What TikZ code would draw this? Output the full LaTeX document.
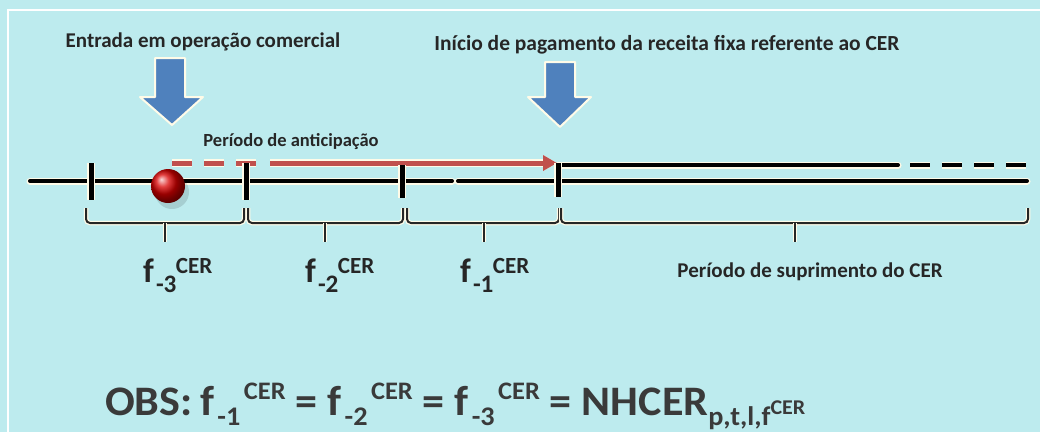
\documentclass[tikz,border=0pt]{standalone}
\usepackage{fontspec}
\setmainfont{Carlito}
\usetikzlibrary{arrows.meta}
\definecolor{bg}{HTML}{BDEBEE}
\definecolor{blueA}{HTML}{4F81BD}
\definecolor{redA}{HTML}{C0504D}
\definecolor{txt}{HTML}{262626}
\definecolor{obs}{HTML}{3A3A3A}
\definecolor{glow}{HTML}{FFFBE8}
% f label: sub lowered, sup raised, placed one after another
\newcommand{\flab}[2]{f\kern0.06em\raisebox{-0.3em}{\scalebox{0.74}{#1}}\kern-0.02em\raisebox{0.26em}{\scalebox{0.68}{#2}}}
\newcommand{\fobs}[2]{f\kern0.07em\raisebox{-0.24em}{\scalebox{0.64}{#1}}\kern0.08em\raisebox{0.36em}{\scalebox{0.6}{#2}}}
\begin{document}
\begin{tikzpicture}[x=1pt,y=-1pt,
  axisline/.style={line width=4, black, line cap=round, preaction={draw=glow, line width=7, line cap=round}},
  axisdash/.style={line width=4, black, dash pattern=on 20 off 12, preaction={draw=glow, line width=7, dash pattern=on 20 off 12}},
  tickline/.style={line width=5, black, preaction={draw=glow, line width=8}},
  redline/.style={line width=5, redA, preaction={draw=glow, line width=8}},
  reddash/.style={line width=5, redA, dash pattern=on 20 off 12, preaction={draw=glow, line width=8, dash pattern=on 20 off 12}},
  bracepath/.style={line width=2, black!85, rounded corners=4, preaction={draw=glow, line width=4.5, rounded corners=4}},
  bluearrow/.style={fill=blueA, draw=glow, line width=2, line join=round},
  smalltxt/.style={text=txt, font=\fontsize{21}{22}\selectfont\bfseries, inner sep=0},
  flabel/.style={text=txt, font=\fontsize{34}{34}\selectfont\bfseries, inner sep=0, anchor=base west}]
\fill[bg] (0,0) rectangle (1040,432);
\useasboundingbox (0,0) rectangle (1040,432);
\draw[white, line width=1.5] (1040,10) -- (8,10) -- (8,432);

% top labels
\node[smalltxt] (entrada) at (203,42) {Entrada em operação comercial};
\node[smalltxt, font=\fontsize{21.5}{22}\selectfont\bfseries] (inicio) at (667,45) {Início de pagamento da receita fixa referente ao CER};
\node[smalltxt, font=\fontsize{18.5}{19}\selectfont\bfseries] (antecip) at (291,142) {Período de anticipação};

% blue arrows
\draw[bluearrow] (155,58) -- (185,58) -- (185,97) -- (203,97) -- (172,125) -- (140,97) -- (155,97) -- cycle;
\draw[bluearrow] (545,62) -- (575,62) -- (575,97) -- (591,97) -- (560,127) -- (528,97) -- (545,97) -- cycle;

% timeline
\coordinate (t0) at (30,181);
\coordinate (gapL) at (452,181);
\coordinate (gapR) at (458,181);
\coordinate (tend) at (1027,181);
\draw[axisline] (t0) -- (gapL);
\draw[axisline] (gapR) -- (tend);
\coordinate (up0) at (558,165);
\coordinate (up1) at (898,165);
\coordinate (up2) at (910,165);
\coordinate (up3) at (1031,165);
\draw[axisline] (up0) -- (up1);
\draw[axisdash] (up2) -- (up3);

% red period
\coordinate (r0) at (172,163);
\coordinate (r1) at (258,163);
\coordinate (r2) at (270,163);
\coordinate (r3) at (557,163);
\draw[reddash] (r0) -- (r1);
\draw[redline, -{Triangle[length=14,width=15]}] (r2) -- (r3);

% ticks
\foreach \x/\a/\b in {91/163/200, 246/163/200, 402/165/198, 558/163/197}
  \draw[tickline] (\x,\a) -- (\x,\b);

% ball with soft shadow
\fill[black, opacity=0.12] (172,192) circle (17);
\shade[ball color=red!85!black] (168,186) circle (17);

% braces
\draw[bracepath] (86,208) -- (86,223) -- (244,223) -- (244,208);
\draw[bracepath] (165,223) -- (165,242);
\draw[bracepath] (248,208) -- (248,223) -- (403,223) -- (403,208);
\draw[bracepath] (325,223) -- (325,242);
\draw[bracepath] (407,208) -- (407,223) -- (559,223) -- (559,208);
\draw[bracepath] (484,223) -- (484,242);
\draw[bracepath] (561,208) -- (561,223) -- (1028,223) -- (1028,208);
\draw[bracepath] (795,223) -- (795,242);

% f labels
\node[flabel] (f3) at (143,282) {\flab{-3}{CER}};
\node[flabel] (f2) at (305,282) {\flab{-2}{CER}};
\node[flabel] (f1) at (460,282) {\flab{-1}{CER}};
\node[smalltxt] (suprim) at (810,272) {Período de suprimento do CER};

% OBS
\node[text=obs, font=\fontsize{42}{42}\selectfont\bfseries, inner sep=0, anchor=base west] (obsline) at (105,415)
  {\resizebox{700pt}{\height}{OBS:\kern-0.05em{} \fobs{-1}{CER} = \fobs{-2}{CER} = \fobs{-3}{CER} = NHCER\raisebox{-0.24em}{\scalebox{0.64}{p,t,l,f\raisebox{0.38em}{\scalebox{0.78}{CER}}}}}};
\end{tikzpicture}
\end{document}
